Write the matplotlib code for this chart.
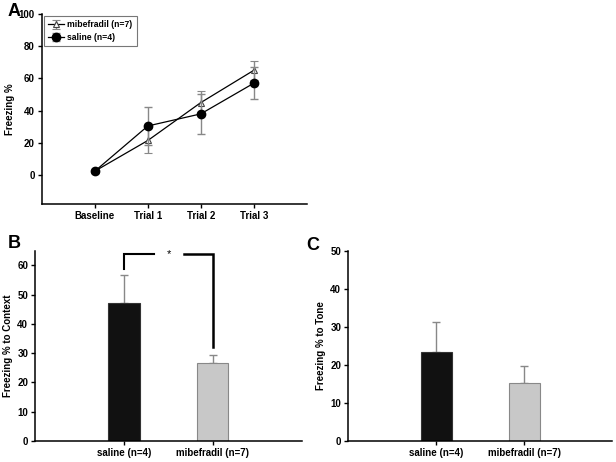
import numpy as np
import matplotlib
matplotlib.use("Agg")
import matplotlib.pyplot as plt

plt.rcParams['font.family'] = ['Liberation Sans', 'DejaVu Sans']
plt.rcParams['font.weight'] = 'bold'
plt.rcParams['axes.labelweight'] = 'bold'
plt.rcParams['font.size'] = 7

# Panel A data
trials = ["Baseline", "Trial 1", "Trial 2", "Trial 3"]
mib_mean = [2.5, 21.5, 45.0, 65.0]
mib_err = [1.0, 7.5, 7.0, 6.0]
sal_mean = [2.5, 30.5, 38.0, 57.0]
sal_err = [1.0, 11.5, 12.5, 10.0]

# Panels B and C data
groups = ["saline (n=4)", "mibefradil (n=7)"]
context_mean = [47.0, 26.5]
context_err = [9.8, 3.0]
tone_mean = [23.3, 15.1]
tone_err = [7.9, 4.6]

bar_colors = ["#111111", "#c8c8c8"]
bar_edges = ["#333333", "#888888"]

fig = plt.figure(figsize=(6.16, 4.62), dpi=100)


def style_axes(ax):
    ax.spines['top'].set_visible(False)
    ax.spines['right'].set_visible(False)
    ax.spines['left'].set_linewidth(1.1)
    ax.spines['bottom'].set_linewidth(1.1)
    ax.tick_params(direction='out', length=3, width=1, labelsize=7, pad=2)


# ---- Panel A ----
axA = fig.add_axes([0.068, 0.558, 0.430, 0.412])
x = np.arange(len(trials))
axA.errorbar(x, mib_mean, yerr=mib_err, color="black", lw=0.9,
             marker="^", ms=5, mfc="white", mec="#444444", mew=0.8,
             ecolor="#888888", elinewidth=1, capsize=3, capthick=1,
             label="mibefradil (n=7)", zorder=3)
axA.errorbar(x, sal_mean, yerr=sal_err, color="black", lw=0.9,
             marker="o", ms=6, mfc="black", mec="black",
             ecolor="#888888", elinewidth=1, capsize=3, capthick=1,
             label="saline (n=4)", zorder=4)
axA.set_xlim(-1, 4)
axA.set_ylim(-18, 100)
axA.set_yticks([0, 20, 40, 60, 80, 100])
axA.set_xticks(x)
axA.set_xticklabels(trials)
axA.set_ylabel("Freezing %", labelpad=3)
style_axes(axA)
leg = axA.legend(loc="upper left", fontsize=6.2, frameon=True, fancybox=False,
                 edgecolor="#555555", handlelength=1.8, handletextpad=0.4,
                 borderpad=0.5, labelspacing=0.45, borderaxespad=0.25)
leg.get_frame().set_linewidth(0.8)

# ---- Panel B ----
axB = fig.add_axes([0.057, 0.0455, 0.433, 0.412])
xb = np.arange(len(groups))
axB.bar(xb, context_mean, width=0.35, color=bar_colors, edgecolor=bar_edges,
        linewidth=0.8, zorder=2)
axB.errorbar(xb, context_mean, yerr=[[0, 0], context_err], fmt="none",
             ecolor="#888888", elinewidth=1, capsize=3, capthick=1, zorder=1)
axB.set_xlim(-1, 2)
axB.set_ylim(0, 65)
axB.set_yticks([0, 10, 20, 30, 40, 50, 60])
axB.set_xticks(xb)
axB.set_xticklabels(groups)
axB.set_ylabel("Freezing % to Context", labelpad=3)
style_axes(axB)
# significance bracket
axB.plot([0, 0, 0.34], [58.6, 63.8, 63.8], color="black", lw=1.5,
         solid_joinstyle="miter")
axB.plot([0.68, 1, 1], [63.8, 63.8, 32.2], color="black", lw=1.8,
         solid_joinstyle="miter")
axB.text(0.5, 63.8, "*", ha="center", va="center", fontsize=8,
         fontweight="normal")

# ---- Panel C ----
axC = fig.add_axes([0.565, 0.0455, 0.429, 0.412])
axC.bar(xb, tone_mean, width=0.35, color=bar_colors, edgecolor=bar_edges,
        linewidth=0.8, zorder=2)
axC.errorbar(xb, tone_mean, yerr=[[0, 0], tone_err], fmt="none",
             ecolor="#888888", elinewidth=1, capsize=3, capthick=1, zorder=1)
axC.set_xlim(-1, 2)
axC.set_ylim(0, 50)
axC.set_yticks([0, 10, 20, 30, 40, 50])
axC.set_xticks(xb)
axC.set_xticklabels(groups)
axC.set_ylabel("Freezing % to Tone", labelpad=3)
style_axes(axC)

# panel letters
fig.text(0.012, 0.975, "A", fontsize=13, fontweight="bold", va="center")
fig.text(0.012, 0.472, "B", fontsize=13, fontweight="bold", va="center")
fig.text(0.497, 0.468, "C", fontsize=13, fontweight="bold", va="center")

fig.savefig("out.png", dpi=100)
